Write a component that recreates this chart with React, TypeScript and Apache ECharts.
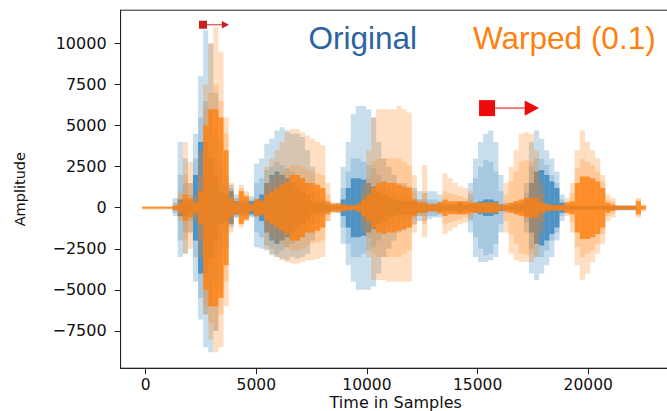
import React, { useEffect, useRef } from "react";
import * as echarts from "echarts";

// Waveform envelopes, one value per bin of BIN samples, in thousands of amplitude units
const BIN = 230;
const X0 = -160;

const origHi = [0,0,0,0,0,0,0.6,4.0,3.0,1.5,4.5,8.0,10.8,10.0,7.0,4.0,2.0,1.4,0.8,0.5,0.5,0.7,2.7,3.0,3.9,4.2,4.7,4.9,4.7,4.5,4.5,4.3,3.5,2.5,1.0,0.5,0.3,0.2,0.3,2.5,4.0,5.7,6.2,6.2,6.0,5.5,4.0,3.0,2.5,2.0,1.5,1.5,1.3,1.2,1.0,0.9,1.0,1.0,0.8,0.3,0.3,0.3,0.4,0.3,1.5,3.0,4.0,4.5,4.7,4.0,2.0,0.3,0.3,0.4,0.4,1.5,4.0,4.7,4.2,3.5,3.0,2.2,0.8,0.3,0.15,0.15,0.15,0.15,0.15,0.15,0.15,0.15,0.15,0.15,0.15,0.15,0.15,0,0];
const origLo = [0,0,0,0,0,0,-0.5,-3.0,-2.8,-1.5,-4.5,-6.8,-8.5,-8.8,-7.5,-5.0,-2.5,-1.0,-0.6,-0.5,-0.5,-0.6,-2.4,-2.5,-2.6,-2.9,-3.0,-3.1,-3.2,-3.0,-3.1,-3.0,-2.8,-2.0,-1.0,-0.5,-0.3,-0.2,-0.3,-2.2,-3.5,-4.5,-5.0,-5.0,-5.0,-4.8,-4.0,-3.0,-2.5,-2.0,-1.5,-1.4,-1.2,-1.0,-0.8,-0.8,-0.7,-0.6,-0.6,-0.3,-0.3,-0.3,-0.4,-0.3,-1.5,-3.0,-3.3,-3.3,-3.2,-3.0,-1.5,-0.3,-0.3,-0.4,-0.4,-1.5,-4.0,-4.4,-4.0,-3.5,-3.0,-2.0,-0.8,-0.3,-0.15,-0.15,-0.15,-0.15,-0.15,-0.15,-0.15,-0.15,-0.15,-0.15,-0.15,-0.15,-0.15,0,0];
const origMid = [0,0,0,0,0,0,0.3,2.0,1.5,0.8,3.0,5.5,6.5,6.0,4.5,2.5,1.5,1.2,0.6,0.4,0.4,0.5,1.5,1.8,2.3,2.5,2.8,2.6,2.4,2.2,2.0,1.8,1.5,1.0,0.6,0.4,0.25,0.15,0.2,1.2,2.2,3.0,3.0,2.8,2.6,2.4,2.0,1.6,1.2,1.0,0.8,0.8,0.7,0.6,0.5,0.5,0.5,0.5,0.4,0.2,0.2,0.2,0.35,0.2,0.8,1.8,2.5,2.9,2.8,2.2,1.0,0.2,0.2,0.3,0.3,0.9,2.5,3.0,3.0,2.6,2.0,1.5,0.5,0.2,0.12,0.12,0.12,0.12,0.12,0.12,0.12,0.12,0.12,0.12,0.12,0.12,0.12,0,0];
const origCore = [0,0,0,0,0,0,0.1,0.5,0.5,0.4,2.0,4.0,4.0,3.0,2.0,1.0,0.8,1.0,0.4,0.3,0.4,0.4,0.5,0.8,1.5,2.0,2.2,2.0,1.8,1.5,1.2,1.0,0.8,0.4,0.3,0.3,0.2,0.1,0.1,0.5,1.2,1.8,1.8,1.7,1.5,1.3,1.0,0.8,0.6,0.5,0.4,0.4,0.4,0.4,0.3,0.3,0.2,0.2,0.2,0.15,0.15,0.15,0.3,0.15,0.2,0.3,0.4,0.5,0.5,0.4,0.2,0.1,0.1,0.2,0.2,0.5,1.5,2.2,2.3,2.0,1.6,1.2,0.3,0.1,0.1,0.1,0.1,0.1,0.1,0.1,0.1,0.1,0.1,0.1,0.1,0.1,0.1,0,0];

const warpHi = [0.1,0.1,0.1,0.1,0.1,0.1,0.2,1.0,4.0,2.8,0.8,3.5,7.5,10.0,11.0,9.5,5.5,1.5,0.6,1.4,1.0,0.3,0.6,0.6,2.5,3.0,3.5,4.0,4.6,4.8,4.8,4.6,4.4,4.2,4.0,3.8,1.5,0.3,0.3,0.25,0.2,0.2,0.3,1.5,3.5,5.5,6.0,6.0,6.0,6.0,6.2,6.0,5.8,2.0,0.5,2.6,0.3,0.3,0.4,2.1,1.8,1.5,1.3,1.2,1.0,0.3,0.35,0.35,0.35,0.35,0.2,1.5,2.5,3.5,4.5,4.6,4.5,3.5,1.5,0.3,0.2,0.2,0.2,0.6,1.5,3.5,4.7,4.0,3.5,3.0,2.0,0.8,0.6,0.15,0.15,0.15,0.15,0.6,0.2];
const warpLo = [-0.1,-0.1,-0.1,-0.1,-0.1,-0.1,-0.2,-0.8,-2.8,-2.5,-0.8,-3.0,-6.5,-8.0,-8.8,-8.5,-6.0,-1.5,-0.5,-0.9,-0.8,-0.3,-0.6,-0.5,-2.5,-2.8,-3.0,-3.2,-3.3,-3.4,-3.4,-3.3,-3.2,-3.2,-3.1,-3.0,-0.8,-0.3,-0.3,-0.25,-0.2,-0.2,-0.3,-1.5,-3.0,-4.4,-4.4,-4.4,-4.5,-4.5,-4.5,-4.5,-4.5,-1.5,-0.5,-1.8,-0.3,-0.3,-0.4,-1.6,-1.4,-1.2,-1.0,-0.9,-0.7,-0.3,-0.35,-0.35,-0.35,-0.35,-0.2,-1.5,-2.8,-3.2,-3.3,-3.3,-3.3,-3.0,-1.5,-0.3,-0.2,-0.2,-0.2,-0.5,-1.5,-3.5,-4.4,-4.0,-3.3,-2.8,-2.2,-0.8,-0.6,-0.15,-0.15,-0.15,-0.15,-0.6,-0.2];
const warpMid = [0.08,0.08,0.08,0.08,0.08,0.08,0.15,0.6,2.0,1.5,0.5,2.0,6.0,7.0,7.5,6.5,4.5,1.0,0.4,1.2,0.8,0.25,0.55,0.5,1.5,1.8,2.0,2.2,2.4,2.6,2.6,2.5,2.3,2.2,2.1,2.0,0.8,0.28,0.28,0.22,0.18,0.15,0.25,0.8,1.8,2.8,3.0,3.0,3.0,3.0,3.0,2.8,2.6,1.0,0.4,1.0,0.25,0.25,0.35,1.0,0.9,0.8,0.7,0.6,0.5,0.3,0.32,0.32,0.32,0.32,0.18,0.8,1.6,2.2,2.8,2.9,2.8,2.2,0.8,0.25,0.18,0.18,0.18,0.4,0.9,2.4,3.0,2.8,2.6,2.2,1.6,0.5,0.4,0.12,0.12,0.12,0.12,0.5,0.15];
const warpCore = [0.05,0.05,0.05,0.05,0.05,0.05,0.1,0.3,0.8,0.6,0.3,1.0,5.0,6.0,6.0,5.5,3.5,0.6,0.3,1.0,0.7,0.2,0.5,0.4,0.8,1.0,1.2,1.4,1.6,2.0,2.0,1.8,1.5,1.5,1.4,1.2,0.4,0.25,0.25,0.2,0.15,0.1,0.2,0.5,0.8,1.2,1.5,1.6,1.5,1.5,1.4,1.3,1.2,0.5,0.3,0.3,0.2,0.2,0.3,0.5,0.4,0.4,0.4,0.4,0.3,0.3,0.3,0.3,0.3,0.3,0.15,0.2,0.3,0.4,0.5,0.6,0.6,0.6,0.3,0.2,0.15,0.15,0.15,0.3,0.4,1.5,1.9,1.9,1.8,1.6,1.2,0.3,0.2,0.1,0.1,0.1,0.1,0.4,0.1];

const xTicks = [0, 5000, 10000, 15000, 20000];
const yTicks = [-7500, -5000, -2500, 0, 2500, 5000, 7500, 10000];

// Shift-arrow annotations (data coordinates)
const arrowStart = [2594, 15428];
const arrowTip = [3769, 17778];
const arrowY = [11143, 6065];

const labelOriginal = "Original";
const labelWarped = "Warped (0.1)";

const bands = (hi: number[], lo: number[]) =>
  hi.map((h, i) => [X0 + i * BIN, X0 + (i + 1) * BIN, lo[i] * 1000, h * 1000]);
const sym = (m: number[]) =>
  m.map((v, i) => [X0 + i * BIN, X0 + (i + 1) * BIN, -v * 1000, v * 1000]);

function bandSeries(name: string, data: number[][], fill: string) {
  return {
    type: "custom",
    name,
    data,
    clip: true,
    silent: true,
    encode: { x: [0, 1], y: [2, 3] },
    renderItem: (_params: any, api: any) => {
      const lo = api.value(2);
      const hi = api.value(3);
      if (hi === 0 && lo === 0) return null;
      const p1 = api.coord([api.value(0), hi]);
      const p2 = api.coord([api.value(1), lo]);
      return {
        type: "rect",
        shape: { x: p1[0], y: p1[1], width: p2[0] - p1[0], height: Math.max(p2[1] - p1[1], 1.2) },
        style: { fill },
      };
    },
  };
}

const arrowStyles = [
  { size: 8, head: "#c8201f", shaft: "#dc6a6a", lw: 1.5 },
  { size: 16, head: "#ee0b0b", shaft: "#f27b7b", lw: 2 },
];

export default function App() {
  const ref = useRef<HTMLDivElement>(null);
  useEffect(() => {
    if (!ref.current) return;
    const chart = echarts.init(ref.current, undefined, { renderer: "svg" });
    const axisColor = "#222";
    const fmt = (v: number) => (v < 0 ? "\u2212" + Math.abs(v) : String(v));
    chart.setOption({
      animation: false,
      grid: {
        left: 120.6,
        top: 10.2,
        width: 550.2,
        height: 358,
        show: true,
        borderColor: axisColor,
        borderWidth: 1,
        backgroundColor: "transparent",
        containLabel: false,
        outerBoundsMode: "none",
      },
      xAxis: {
        type: "value",
        min: -1130,
        max: 23730,
        name: "Time in Samples",
        nameLocation: "middle",
        nameGap: 26,
        nameMoveOverlap: false,
        nameTextStyle: { fontFamily: "DejaVu Sans", fontSize: 16, lineHeight: 16, color: "#111" },
        axisLine: { show: true, onZero: false, lineStyle: { color: axisColor, width: 1 } },
        axisTick: { show: true, length: 6, customValues: xTicks, lineStyle: { color: axisColor } },
        axisLabel: {
          customValues: xTicks,
          margin: 9,
          fontFamily: "DejaVu Sans",
          fontSize: 15.5,
          lineHeight: 15,
          color: "#111",
          formatter: fmt,
        },
        splitLine: { show: false },
      },
      yAxis: {
        type: "value",
        min: -9769,
        max: 12026,
        name: "Amplitude",
        nameLocation: "middle",
        nameGap: 93,
        nameMoveOverlap: false,
        nameTextStyle: { fontFamily: "DejaVu Sans", fontSize: 14.5, color: "#111" },
        axisLine: { show: true, onZero: false, lineStyle: { color: axisColor, width: 1 } },
        axisTick: { show: true, length: 6, customValues: yTicks, lineStyle: { color: axisColor } },
        axisLabel: {
          customValues: yTicks,
          margin: 14,
          fontFamily: "DejaVu Sans",
          fontSize: 16,
          color: "#111",
          formatter: fmt,
        },
        splitLine: { show: false },
      },
      series: [
        bandSeries("Original outer", bands(origHi, origLo), "rgba(31,119,180,0.24)"),
        bandSeries("Original mid", sym(origMid), "rgba(31,119,180,0.2)"),
        bandSeries("Original core", sym(origCore), "rgba(31,119,180,0.65)"),
        bandSeries("Warped outer", bands(warpHi, warpLo), "rgba(255,127,14,0.26)"),
        bandSeries("Warped mid", sym(warpMid), "rgba(255,127,14,0.22)"),
        bandSeries("Warped core", sym(warpCore), "rgba(255,127,14,0.8)"),
        {
          type: "custom",
          name: "shift",
          silent: true,
          clip: false,
          data: arrowStart.map((s, i) => [s, arrowTip[i], arrowY[i]]),
          encode: { x: [0, 1], y: 2 },
          renderItem: (params: any, api: any) => {
            const st = arrowStyles[params.dataIndex];
            const p0 = api.coord([api.value(0), api.value(2)]);
            const p1 = api.coord([api.value(1), api.value(2)]);
            const s = st.size;
            const base = p1[0] - 0.9 * s;
            return {
              type: "group",
              children: [
                {
                  type: "line",
                  shape: { x1: p0[0] + s / 2, y1: p0[1], x2: base, y2: p0[1] },
                  style: { stroke: st.shaft, lineWidth: st.lw },
                },
                {
                  type: "rect",
                  shape: { x: p0[0] - s / 2, y: p0[1] - s / 2, width: s, height: s },
                  style: { fill: st.head },
                },
                {
                  type: "polygon",
                  shape: {
                    points: [
                      [base, p1[1] - 0.47 * s],
                      [p1[0], p1[1]],
                      [base, p1[1] + 0.47 * s],
                    ],
                  },
                  style: { fill: st.head },
                },
              ],
            };
          },
        },
      ],
      graphic: [
        {
          type: "text",
          x: 308.5,
          y: 38.2,
          style: {
            text: labelOriginal,
            fontFamily: "Liberation Sans",
            fontSize: 31.5,
            fill: "#2b63a1",
            align: "left",
            verticalAlign: "middle",
          },
        },
        {
          type: "text",
          x: 473,
          y: 38.2,
          style: {
            text: labelWarped,
            fontFamily: "Liberation Sans",
            fontSize: 31.5,
            fill: "#ff800e",
            align: "left",
            verticalAlign: "middle",
          },
        },
      ],
    });
    return () => chart.dispose();
  }, []);
  return (
    <div
      ref={ref}
      style={{ position: "fixed", left: 0, top: 0, width: 667, height: 411, background: "#fff" }}
    />
  );
}
